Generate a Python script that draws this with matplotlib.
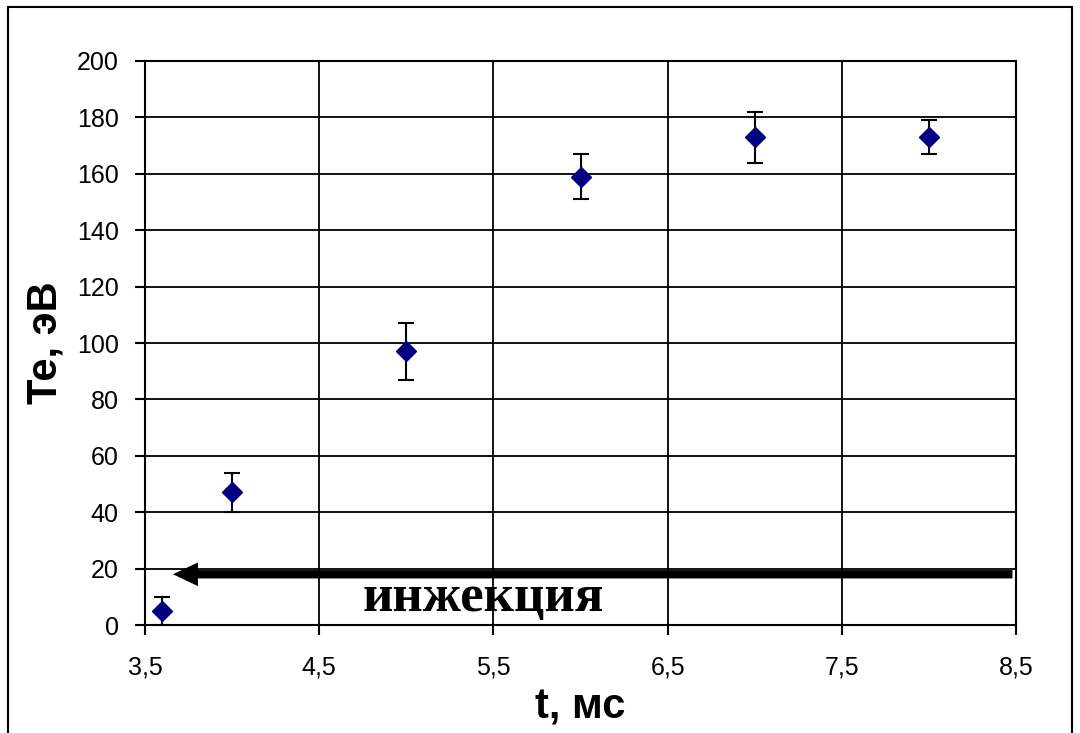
import numpy as np
import matplotlib.pyplot as plt
from matplotlib.patches import Rectangle, FancyArrowPatch

# Данные
t_ms = [3.6, 4.0, 5.0, 6.0, 7.0, 8.0]
te_ev = [5, 47, 97, 159, 173, 173]
te_err = [5, 7, 10, 8, 9, 6]

x_ticks = [3.5, 4.5, 5.5, 6.5, 7.5, 8.5]
x_labels = ['3,5', '4,5', '5,5', '6,5', '7,5', '8,5']
y_ticks = np.arange(0, 201, 20)

arrow_y = 18
arrow_from = 8.48
arrow_to = 3.66

fig = plt.figure(figsize=(10.8, 7.33), dpi=100)
ax = fig.add_axes([0.1343, 0.1473, 0.8064, 0.7695])

# рамка вокруг всей диаграммы
fig.patches.append(Rectangle((8 / 1080, -0.1), 1064 / 1080, 1.1 - 7 / 733,
                             transform=fig.transFigure, fill=False,
                             edgecolor='black', lw=1.5))

ax.errorbar(t_ms, te_ev, yerr=te_err, fmt='D', color='#000080', ms=10,
            ecolor='black', elinewidth=1.5, capsize=6, capthick=1.5, zorder=5)

arr = FancyArrowPatch((arrow_from, arrow_y), (arrow_to, arrow_y),
                      arrowstyle='simple,head_length=1.8,head_width=1.7,tail_width=0.6',
                      mutation_scale=10, color='black', lw=0, zorder=4,
                      shrinkA=0, shrinkB=0)
ax.add_patch(arr)
ax.text(5.44, 9.5, 'инжекция', ha='center', va='center',
        family='Liberation Serif', fontweight='bold', fontsize=38)

ax.set_xlim(3.5, 8.5)
ax.set_ylim(0, 200)
ax.set_xticks(x_ticks)
ax.set_xticklabels(x_labels)
ax.set_yticks(y_ticks)
ax.tick_params(labelsize=18, length=7, width=1.5, direction='out')
ax.tick_params(axis='x', pad=15)
ax.tick_params(axis='y', pad=12)
for lab in ax.get_xticklabels() + ax.get_yticklabels():
    lab.set_family('Liberation Sans')
ax.grid(True, color='black', lw=1.3)
for s in ax.spines.values():
    s.set_linewidth(1.5)

ax.set_xlabel('t, мс', fontsize=30, fontweight='bold', family='Liberation Sans', labelpad=6)
ax.set_ylabel('Те, эВ', fontsize=30, fontweight='bold', family='Liberation Sans', labelpad=8)

fig.savefig('out.png', dpi=100)
